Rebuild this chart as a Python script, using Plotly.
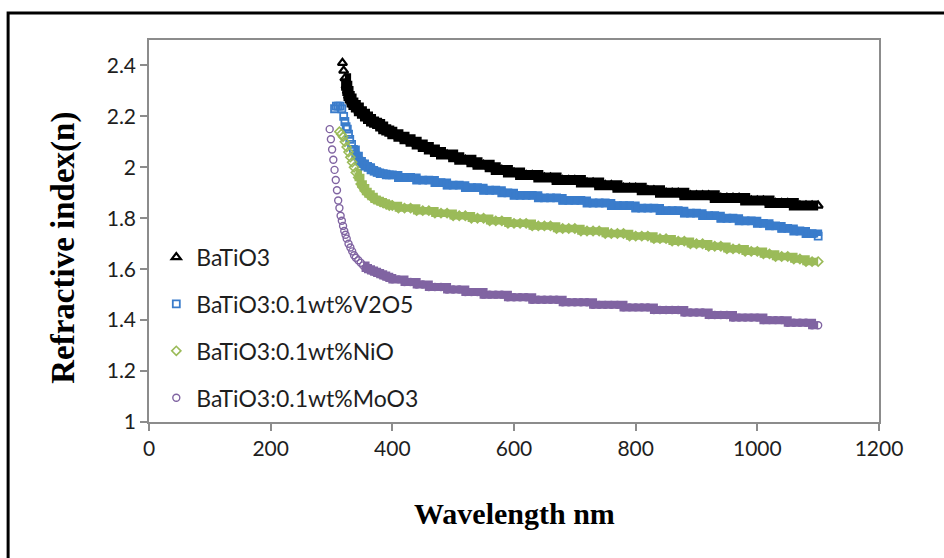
import plotly.graph_objects as go

# ---------------- data ----------------
wl_tail = [400, 410, 420, 430, 440, 450, 460, 470, 480, 490,
           500, 510, 520, 530, 540, 550, 560, 570, 580, 590,
           600, 610, 620, 630, 640, 650, 660, 670, 680, 690,
           700, 710, 720, 730, 740, 750, 760, 770, 780, 790,
           800, 810, 820, 830, 840, 850, 860, 870, 880, 890,
           900, 910, 920, 930, 940, 950, 960, 970, 980, 990,
           1000, 1010, 1020, 1030, 1040, 1050, 1060, 1070, 1080, 1090, 1100]

# BaTiO3
wl_bto_head = [318, 320, 322, 324, 326, 328, 330, 333, 336, 340, 345, 350, 355, 360,
               365, 370, 375, 380, 385, 390, 395]
n_bto_head = [2.41, 2.38, 2.35, 2.32, 2.30, 2.28, 2.27, 2.255, 2.245, 2.235, 2.22, 2.21, 2.20, 2.19,
              2.18, 2.175, 2.17, 2.16, 2.15, 2.145, 2.14]
n_bto_tail = [2.13, 2.12, 2.11, 2.10, 2.09, 2.08, 2.07, 2.06, 2.05, 2.05,
              2.04, 2.03, 2.03, 2.02, 2.01, 2.01, 2.00, 1.99, 1.99, 1.98,
              1.98, 1.97, 1.97, 1.97, 1.96, 1.96, 1.96, 1.95, 1.95, 1.95,
              1.95, 1.94, 1.94, 1.94, 1.93, 1.93, 1.93, 1.92, 1.92, 1.92,
              1.92, 1.91, 1.91, 1.91, 1.90, 1.90, 1.90, 1.90, 1.89, 1.89,
              1.89, 1.89, 1.89, 1.88, 1.88, 1.88, 1.88, 1.88, 1.87, 1.87,
              1.87, 1.87, 1.86, 1.86, 1.86, 1.86, 1.85, 1.85, 1.85, 1.85, 1.85]

# BaTiO3:0.1wt%V2O5
wl_v2o5_head = [305, 308, 311, 314, 317, 320, 322, 324, 326, 328, 330, 333, 336, 340,
                345, 350, 355, 360, 365, 370, 375, 380, 385, 390, 395]
n_v2o5_head = [2.23, 2.24, 2.24, 2.24, 2.23, 2.20, 2.18, 2.16, 2.15, 2.13, 2.11, 2.09, 2.07, 2.045,
               2.025, 2.015, 2.005, 2.00, 1.99, 1.985, 1.98, 1.975, 1.975, 1.97, 1.97]
n_v2o5_tail = [1.97, 1.96, 1.96, 1.96, 1.95, 1.95, 1.95, 1.94, 1.94, 1.93,
               1.93, 1.93, 1.92, 1.92, 1.92, 1.91, 1.91, 1.91, 1.90, 1.90,
               1.89, 1.89, 1.89, 1.89, 1.88, 1.88, 1.88, 1.88, 1.87, 1.87,
               1.87, 1.87, 1.86, 1.86, 1.86, 1.86, 1.85, 1.85, 1.85, 1.85,
               1.84, 1.84, 1.84, 1.84, 1.83, 1.83, 1.83, 1.83, 1.82, 1.82,
               1.82, 1.81, 1.81, 1.81, 1.80, 1.80, 1.80, 1.79, 1.79, 1.79,
               1.78, 1.78, 1.77, 1.77, 1.76, 1.76, 1.75, 1.75, 1.74, 1.74, 1.73]

# BaTiO3:0.1wt%NiO
wl_nio_head = [313, 316, 319, 322, 325, 328, 331, 334, 337, 340, 344, 348, 352, 356,
               360, 365, 370, 375, 380, 385, 390, 395]
n_nio_head = [2.14, 2.13, 2.12, 2.10, 2.08, 2.06, 2.04, 2.02, 2.00, 1.98, 1.96, 1.935, 1.92, 1.905,
              1.895, 1.885, 1.875, 1.87, 1.865, 1.86, 1.855, 1.85]
n_nio_tail = [1.85, 1.84, 1.84, 1.84, 1.83, 1.83, 1.83, 1.82, 1.82, 1.82,
              1.81, 1.81, 1.81, 1.80, 1.80, 1.80, 1.79, 1.79, 1.79, 1.78,
              1.78, 1.78, 1.78, 1.77, 1.77, 1.77, 1.77, 1.76, 1.76, 1.76,
              1.76, 1.75, 1.75, 1.75, 1.75, 1.74, 1.74, 1.74, 1.74, 1.73,
              1.73, 1.73, 1.73, 1.72, 1.72, 1.72, 1.71, 1.71, 1.71, 1.70,
              1.70, 1.70, 1.69, 1.69, 1.69, 1.68, 1.68, 1.68, 1.67, 1.67,
              1.67, 1.66, 1.66, 1.65, 1.65, 1.65, 1.64, 1.64, 1.63, 1.63, 1.63]

# BaTiO3:0.1wt%MoO3
wl_moo3_head = [297, 299, 301, 303, 305, 307, 309, 311, 313, 315, 317, 319, 321, 323,
                325, 328, 331, 334, 337, 340, 344, 348, 352, 356, 360, 365, 370, 375,
                380, 385, 390, 395]
n_moo3_head = [2.15, 2.11, 2.07, 2.03, 1.99, 1.95, 1.91, 1.87, 1.84, 1.81, 1.79, 1.77, 1.75, 1.735,
               1.72, 1.70, 1.685, 1.67, 1.655, 1.645, 1.635, 1.625, 1.615, 1.605, 1.60, 1.595, 1.59, 1.585,
               1.58, 1.575, 1.57, 1.565]
n_moo3_tail = [1.56, 1.56, 1.55, 1.55, 1.54, 1.54, 1.53, 1.53, 1.53, 1.52,
               1.52, 1.52, 1.51, 1.51, 1.51, 1.50, 1.50, 1.50, 1.50, 1.49,
               1.49, 1.49, 1.49, 1.48, 1.48, 1.48, 1.48, 1.48, 1.47, 1.47,
               1.47, 1.47, 1.47, 1.46, 1.46, 1.46, 1.46, 1.46, 1.45, 1.45,
               1.45, 1.45, 1.45, 1.44, 1.44, 1.44, 1.44, 1.44, 1.43, 1.43,
               1.43, 1.43, 1.42, 1.42, 1.42, 1.42, 1.41, 1.41, 1.41, 1.41,
               1.41, 1.40, 1.40, 1.40, 1.40, 1.39, 1.39, 1.39, 1.39, 1.38, 1.38]

series_names = ["BaTiO3", "BaTiO3:0.1wt%V2O5", "BaTiO3:0.1wt%NiO", "BaTiO3:0.1wt%MoO3"]
x_ticks = [0, 200, 400, 600, 800, 1000, 1200]
y_ticks = [1, 1.2, 1.4, 1.6, 1.8, 2, 2.2, 2.4]
y_tick_text = ["1", "1.2", "1.4", "1.6", "1.8", "2", "2.2", "2.4"]
x_title = "Wavelength nm"
y_title = "Refractive index(n)"

# ---------------- figure ----------------
# (x, y, symbol, colour, marker size, marker line width, dense-band start wavelength, band width)
series = [
    (wl_bto_head + wl_tail, n_bto_head + n_bto_tail, "triangle-up-open", "#000000", 8, 2.2, 322, 10),
    (wl_v2o5_head + wl_tail, n_v2o5_head + n_v2o5_tail, "square-open", "#3A7CCB", 7, 1.8, 336, 8),
    (wl_nio_head + wl_tail, n_nio_head + n_nio_tail, "diamond-open", "#9BBB59", 7, 1.6, 340, 7.5),
    (wl_moo3_head + wl_tail, n_moo3_head + n_moo3_tail, "circle-open", "#8064A2", 7, 1.4, 350, 8),
]

fig = go.Figure()
# dense overlapping markers in the original merge into a solid band -> draw that band from the same data
for i, (xs, ys, sym, col, size, lw, band_start, band_w) in enumerate(series):
    bx = [x for x in xs if x >= band_start]
    by = [y for x, y in zip(xs, ys) if x >= band_start]
    fig.add_trace(go.Scatter(
        x=bx, y=by, mode="lines", showlegend=False, hoverinfo="skip",
        line=dict(color=col, width=band_w, shape="hv"),
    ))
for i, (xs, ys, sym, col, size, lw, band_start, band_w) in enumerate(series):
    fig.add_trace(go.Scatter(
        x=xs, y=ys, mode="markers", name=series_names[i],
        legendgroup=f"g{i}",
        marker=dict(symbol=sym, size=size, color=col, line=dict(color=col, width=lw)),
    ))

tick_font = dict(family="Lato, Carlito, Calibri, sans-serif", size=21, color="#1E1E1E")
x_title_font = dict(family="Liberation Serif, Times New Roman, serif", size=30, color="#000000")
y_title_font = dict(family="Liberation Serif, Times New Roman, serif", size=33, color="#000000")

fig.update_layout(
    width=944, height=558,
    margin=dict(l=149, r=65, t=40, b=136),
    paper_bgcolor="white", plot_bgcolor="white",
    showlegend=True,
    legend=dict(
        x=0.01, y=0.488, xanchor="left", yanchor="top",
        bgcolor="rgba(0,0,0,0)", borderwidth=0,
        font=dict(family="Lato, Carlito, Calibri, sans-serif", size=23, color="#1E1E1E"),
        tracegroupgap=14, itemsizing="trace",
    ),
    xaxis=dict(
        range=[0, 1200], tickvals=x_ticks, ticktext=[str(v) for v in x_ticks],
        showgrid=False, zeroline=False, automargin=False,
        showline=True, linecolor="#8C8C8C", linewidth=1.5, mirror=True,
        ticks="outside", ticklen=7, tickcolor="#8C8C8C", tickwidth=1.5,
        tickfont=tick_font,
    ),
    yaxis=dict(
        range=[1, 2.5], tickvals=y_ticks, ticktext=y_tick_text,
        showgrid=False, zeroline=False, automargin=False,
        showline=True, linecolor="#8C8C8C", linewidth=1.5, mirror=True,
        ticks="outside", ticklen=7, tickcolor="#8C8C8C", tickwidth=1.5,
        tickfont=tick_font,
    ),
    annotations=[
        dict(text=f"<b>{x_title}</b>", xref="paper", yref="paper", x=0.5, y=-0.24,
             xanchor="center", yanchor="middle", showarrow=False, font=x_title_font),
        dict(text=f"<b>{y_title}</b>", xref="paper", yref="paper", x=-0.117, y=0.455,
             xanchor="center", yanchor="middle", showarrow=False, textangle=-90, font=y_title_font),
    ],
    shapes=[
        dict(type="rect", xref="paper", yref="paper",
             x0=-0.193, x1=1.2, y0=-0.6, y1=1.0707,
             line=dict(color="black", width=3), fillcolor="rgba(0,0,0,0)", layer="below"),
    ],
)

fig.write_html(
    "out.html",
    config={"displayModeBar": False},
    post_script="document.body.style.margin='0px';document.body.style.overflow='hidden';",
)
